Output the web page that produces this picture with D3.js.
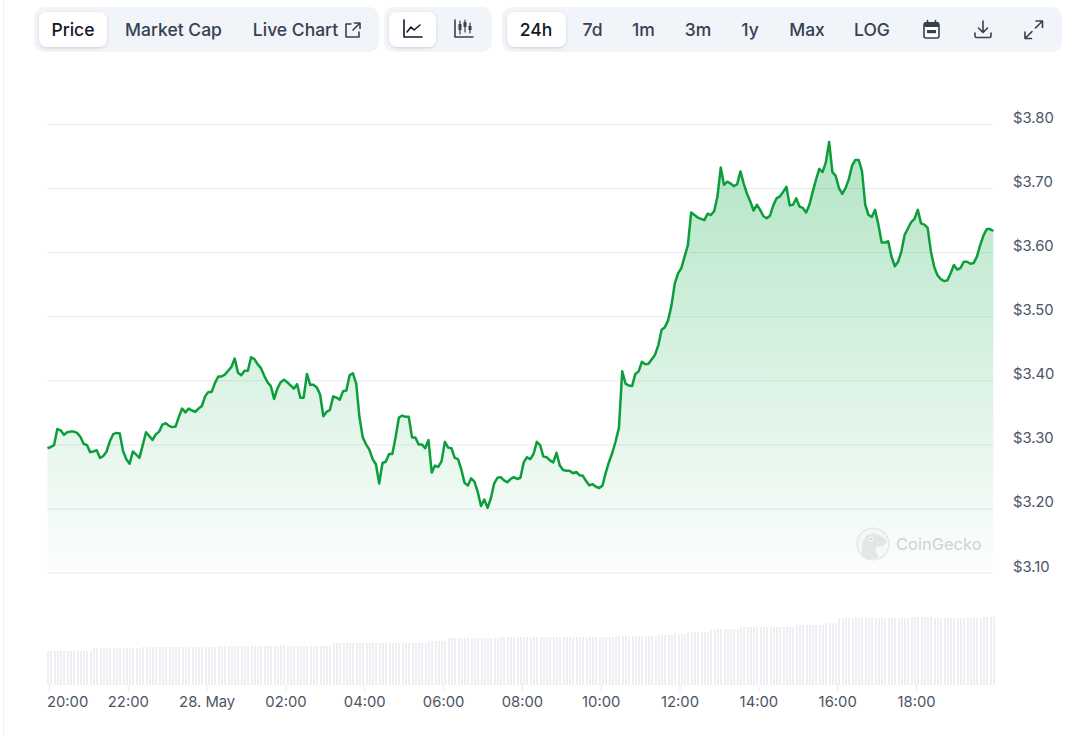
<!DOCTYPE html>
<html lang="en">

<head>
  <meta charset="UTF-8">
  <title>Price chart, 24h</title>
  <script src="https://d3js.org/d3.v7.min.js"></script>
  <style>
    body {
      margin: 0;
      background: #fff;
      font-family: Inter, "Noto Sans", sans-serif;
    }

    svg {
      display: block;
    }

    .price-axis path,
    .time-axis path {
      display: none;
    }

    .price-axis line,
    .time-axis line {
      stroke: #e8eaee;
    }

    .price-axis text,
    .time-axis text {
      font-family: Inter, "Noto Sans", sans-serif;
      font-size: 14.8px;
      fill: #4b5565;
    }
  </style>
</head>

<body>
  <div id="chart"></div>

  <script>
    // 5 minute samples
    const startTime = new Date(2024, 4, 27, 19, 57, 43);
    const stepMinutes = 5;

    const prices = [
      3.294, 3.296, 3.299, 3.324, 3.322, 3.315, 3.319, 3.320, 3.320, 3.318, 3.312, 3.301, 3.299, 3.288, 3.289, 3.291, 3.279, 3.282, 3.289, 3.305, 3.316, 3.318, 3.317, 3.290,
      3.277, 3.270, 3.289, 3.284, 3.279, 3.299, 3.319, 3.313, 3.307, 3.316, 3.320, 3.331, 3.333, 3.329, 3.327, 3.328, 3.343, 3.356, 3.350, 3.356, 3.353, 3.351, 3.356, 3.360,
      3.375, 3.382, 3.382, 3.396, 3.406, 3.406, 3.409, 3.415, 3.421, 3.434, 3.412, 3.408, 3.415, 3.415, 3.436, 3.433, 3.425, 3.419, 3.407, 3.397, 3.391, 3.371, 3.387, 3.397,
      3.401, 3.397, 3.392, 3.387, 3.394, 3.373, 3.373, 3.410, 3.393, 3.393, 3.389, 3.378, 3.344, 3.351, 3.354, 3.375, 3.373, 3.370, 3.383, 3.384, 3.408, 3.411, 3.395, 3.342,
      3.311, 3.300, 3.292, 3.277, 3.269, 3.239, 3.271, 3.273, 3.285, 3.285, 3.311, 3.342, 3.345, 3.343, 3.343, 3.311, 3.311, 3.300, 3.300, 3.294, 3.307, 3.256, 3.267, 3.265,
      3.274, 3.304, 3.295, 3.294, 3.279, 3.277, 3.261, 3.240, 3.236, 3.247, 3.242, 3.226, 3.204, 3.214, 3.201, 3.216, 3.239, 3.248, 3.249, 3.244, 3.241, 3.246, 3.249, 3.246,
      3.248, 3.272, 3.280, 3.277, 3.285, 3.304, 3.299, 3.281, 3.280, 3.275, 3.272, 3.287, 3.267, 3.260, 3.259, 3.259, 3.255, 3.257, 3.252, 3.251, 3.243, 3.236, 3.238, 3.234,
      3.232, 3.236, 3.256, 3.273, 3.287, 3.305, 3.326, 3.414, 3.395, 3.392, 3.391, 3.410, 3.414, 3.429, 3.425, 3.426, 3.433, 3.440, 3.455, 3.479, 3.483, 3.494, 3.517, 3.551,
      3.567, 3.575, 3.593, 3.611, 3.662, 3.658, 3.654, 3.652, 3.650, 3.660, 3.658, 3.664, 3.687, 3.732, 3.705, 3.710, 3.707, 3.703, 3.706, 3.726, 3.707, 3.691, 3.679, 3.665,
      3.674, 3.666, 3.656, 3.653, 3.657, 3.673, 3.684, 3.687, 3.694, 3.702, 3.673, 3.674, 3.684, 3.671, 3.669, 3.662, 3.674, 3.694, 3.713, 3.730, 3.725, 3.740, 3.772, 3.725,
      3.719, 3.700, 3.691, 3.700, 3.714, 3.735, 3.744, 3.744, 3.727, 3.674, 3.658, 3.655, 3.666, 3.643, 3.615, 3.615, 3.617, 3.593, 3.578, 3.585, 3.601, 3.627, 3.637, 3.647,
      3.652, 3.666, 3.645, 3.643, 3.638, 3.601, 3.577, 3.564, 3.558, 3.555, 3.556, 3.567, 3.580, 3.573, 3.575, 3.585, 3.585, 3.582, 3.583, 3.593, 3.611, 3.626, 3.636, 3.636,
      3.633
    ];

    const volumes = [
      34, 34, 34, 34, 34, 34, 34, 34, 34, 34, 34, 34, 34, 34,
      37, 37, 37, 37, 37, 37, 37, 37, 37, 37, 37, 37, 37, 37, 37,
      38, 38, 38, 38, 38, 38, 38, 38, 38, 38, 38, 38, 38, 38, 38, 38, 38, 38, 38, 38, 38, 38, 38,
      39.5, 39.5, 39.5, 39.5, 39.5, 39.5, 39.5, 39.5, 39.5, 39.5, 39.5, 39.5, 39.5, 39.5, 39.5, 39.5, 39.5, 39.5, 39.5,
      40.5, 40.5,
      39.5, 39.5, 39.5, 39.5, 39.5, 39.5, 39.5, 39.5, 39.5, 39.5, 39.5, 39.5, 39.5, 39.5,
      41.7, 41.7, 41.7, 41.7, 41.7, 41.7, 41.7, 41.7, 41.7, 41.7, 41.7, 41.7, 41.7, 41.7, 41.7, 41.7, 41.7, 41.7,
      42.5, 42.5, 42.5, 42.5, 42.5, 42.5, 42.5, 42.5, 42.5, 42.5, 42.5,
      44, 44, 44, 44, 44, 44,
      47, 47, 47, 47, 47, 47, 47, 47, 47, 47, 47, 47, 47, 47, 47, 47,
      48.3, 48.3, 48.3, 48.3, 48.3, 48.3, 48.3, 48.3, 48.3, 48.3, 48.3, 48.3, 48.3, 48.3, 48.3, 48.3, 48.3, 48.3,
      48.3, 48.3, 48.3, 48.3, 48.3, 48.3, 48.3, 48.3, 48.3, 48.3, 48.3, 48.3, 48.3, 48.3, 48.3, 48.3, 48.3, 48.3,
      49, 49, 49, 49, 49, 49, 49, 49, 49, 49, 49, 49,
      50, 50, 50, 50, 50,
      51.5, 51.5, 51.5, 51.5,
      53, 53, 53, 53, 53, 53, 53,
      56, 56, 56, 56, 56, 56, 56, 56, 56,
      57.7, 57.7, 57.7, 57.7, 57.7, 57.7, 57.7, 57.7, 57.7, 57.7, 57.7, 57.7, 57.7, 57.7, 57.7, 57.7, 57.7,
      60.5, 60.5, 60.5, 60.5, 60.5, 60.5, 60.5, 60.5, 60.5,
      62, 62, 62, 62,
      67, 67, 67, 67, 67, 67, 67, 67, 67, 67, 67, 67, 67, 67, 67, 67, 67, 67, 67, 67, 67, 67,
      68, 68, 68, 68, 68, 68, 68,
      67, 67, 67, 67, 67, 67, 67, 67, 67, 67, 67, 67, 67, 67, 67,
      68, 68, 68, 68
    ];

    const priceTicks = [3.1, 3.2, 3.3, 3.4, 3.5, 3.6, 3.7, 3.8];
    const timeTicks = [
      new Date(2024, 4, 27, 20), new Date(2024, 4, 27, 22), new Date(2024, 4, 28, 0),
      new Date(2024, 4, 28, 2), new Date(2024, 4, 28, 4), new Date(2024, 4, 28, 6),
      new Date(2024, 4, 28, 8), new Date(2024, 4, 28, 10), new Date(2024, 4, 28, 12),
      new Date(2024, 4, 28, 14), new Date(2024, 4, 28, 16), new Date(2024, 4, 28, 18)
    ];

    const metricButtons = ["Price", "Market Cap", "Live Chart"];
    const metricCenters = [73, 173.5, 295.5];
    const rangeButtons = ["24h", "7d", "1m", "3m", "1y", "Max", "LOG"];
    const rangeCenters = [536, 592.5, 643.5, 698, 750, 807, 872];

    const width = 1075;
    const height = 735;

    const svg = d3.select("#chart")
      .append("svg")
      .attr("width", width)
      .attr("height", height);

    const defs = svg.append("defs");

    const shadow = defs.append("filter").attr("id", "btn-shadow")
      .attr("x", "-20%").attr("y", "-20%").attr("width", "140%").attr("height", "150%");
    shadow.append("feDropShadow")
      .attr("dx", 0).attr("dy", 1).attr("stdDeviation", 1.5)
      .attr("flood-color", "#000").attr("flood-opacity", 0.16);

    const grad = defs.append("linearGradient")
      .attr("id", "area-fill")
      .attr("gradientUnits", "userSpaceOnUse")
      .attr("x1", 0).attr("x2", 0).attr("y1", 142).attr("y2", 572);
    grad.append("stop").attr("offset", 0).attr("stop-color", "#00a83e").attr("stop-opacity", 0.3);
    grad.append("stop").attr("offset", 1).attr("stop-color", "#00a83e").attr("stop-opacity", 0.01);

    // thin page edge on the left
    svg.append("line")
      .attr("x1", 3.5).attr("x2", 3.5).attr("y1", 0).attr("y2", height)
      .attr("stroke", "#eeeff2");

    const x = d3.scaleTime()
      .domain([timeTicks[0], timeTicks[timeTicks.length - 1]])
      .range([49, 916]);

    const y = d3.scaleLinear()
      .domain([3.1, 3.8])
      .range([572.6, 124]);

    const volumeY = d3.scaleLinear()
      .domain([0, 68])
      .range([685, 617]);

    const timeOf = i => d3.timeMinute.offset(startTime, i * stepMinutes);

    // Price gridlines and labels
    const priceAxis = svg.append("g")
      .attr("class", "price-axis")
      .attr("transform", "translate(47,0)")
      .call(d3.axisRight(y)
        .tickValues(priceTicks)
        .tickSize(946)
        .tickPadding(20)
        .tickFormat(d => "$" + d.toFixed(2)));
    priceAxis.selectAll("text").attr("y", -6.3);

    // Volume bars
    svg.append("g")
      .selectAll("rect")
      .data(volumes)
      .enter()
      .append("rect")
      .attr("x", (d, i) => x(timeOf(i)) - 0.5)
      .attr("y", d => volumeY(d))
      .attr("width", 2)
      .attr("height", d => volumeY(0) - volumeY(d))
      .attr("fill", "#edeff3")
      .attr("shape-rendering", "crispEdges");

    // Time axis
    const timeAxis = svg.append("g")
      .attr("class", "time-axis")
      .attr("transform", "translate(0,685)")
      .call(d3.axisBottom(x)
        .tickValues(timeTicks)
        .tickSize(7)
        .tickPadding(4)
        .tickFormat(d => d.getHours() === 0 ? "28. May" : d3.timeFormat("%H:%M")(d)));
    // first label is pushed right so it stays inside the plot
    timeAxis.select(".tick text").attr("text-anchor", "start").attr("x", -2.5);

    // Watermark goes under the price area
    const mark = svg.append("g").attr("transform", "translate(873,544)");
    mark.append("circle").attr("r", 16).attr("fill", "#fbfbfb").attr("stroke", "#e6e8e8").attr("stroke-width", 1.2);
    mark.append("path")
      .attr("d", "M-10,13 C-12,4 -11,-8 -3,-10 C3,-12 10,-8 14,-2 C12,2 7,3 3,3 C2,7 4,11 6,13 C1,16 -6,16 -10,13 Z")
      .attr("fill", "#e8eae9");
    mark.append("circle").attr("cx", -2).attr("cy", -5).attr("r", 2.4).attr("fill", "#fbfbfb");
    mark.append("circle").attr("cx", -2).attr("cy", -5).attr("r", 1.1).attr("fill", "#cfd2d1");
    svg.append("text")
      .attr("x", 896).attr("y", 550)
      .attr("font-size", 16.5)
      .attr("fill", "#d2d5d4")
      .text("CoinGecko");

    // Area and line
    svg.append("path")
      .datum(prices)
      .attr("fill", "url(#area-fill)")
      .attr("d", d3.area()
        .x((d, i) => x(timeOf(i)))
        .y0(y(3.1))
        .y1(d => y(d)));

    svg.append("path")
      .datum(prices)
      .attr("fill", "none")
      .attr("stroke", "#0b9e3a")
      .attr("stroke-width", 2.5)
      .attr("stroke-linejoin", "round")
      .attr("d", d3.line()
        .x((d, i) => x(timeOf(i)))
        .y(d => y(d)));

    // Toolbar
    const toolbar = svg.append("g");

    function pill(px, py, w, h, r, fill, shadowed) {
      const p = toolbar.append("rect")
        .attr("x", px).attr("y", py).attr("width", w).attr("height", h)
        .attr("rx", r).attr("fill", fill);
      if (shadowed) p.attr("filter", "url(#btn-shadow)");
    }

    pill(34, 7, 345, 45, 10, "#f1f4f9");
    pill(384, 7, 108, 45, 10, "#f1f4f9");
    pill(502, 7, 560, 45, 10, "#f1f4f9");
    pill(39, 12, 68, 35, 8, "#fff", true);
    pill(389, 12, 47, 35, 8, "#fff", true);
    pill(507, 12, 59, 35, 8, "#fff", true);

    toolbar.selectAll(".metric")
      .data(metricButtons)
      .enter()
      .append("text")
      .attr("class", "metric")
      .attr("x", (d, i) => metricCenters[i])
      .attr("y", 35.5)
      .attr("text-anchor", "middle")
      .attr("font-size", 17.5)
      .attr("font-weight", 500)
      .attr("fill", (d, i) => i === 0 ? "#111827" : "#364152")
      .text(d => d);

    toolbar.selectAll(".range")
      .data(rangeButtons)
      .enter()
      .append("text")
      .attr("class", "range")
      .attr("x", (d, i) => rangeCenters[i])
      .attr("y", 35.5)
      .attr("text-anchor", "middle")
      .attr("font-size", 17.5)
      .attr("font-weight", 500)
      .attr("fill", (d, i) => i === 0 ? "#111827" : "#364152")
      .text(d => d);

    function icon(ix, iy, d, color, sw) {
      toolbar.append("path")
        .attr("transform", `translate(${ix},${iy})`)
        .attr("d", d)
        .attr("fill", "none")
        .attr("stroke", color || "#364152")
        .attr("stroke-width", sw || 1.6)
        .attr("stroke-linecap", "round")
        .attr("stroke-linejoin", "round");
    }

    // external link
    icon(344, 22, "M7,2 H2 V15 H15 V10 M9,8 L15.5,1.5 M10.5,1 H16 V6.5");
    // line chart
    icon(404, 20, "M0,0 V17 H18 M3,12 L7,7 L10,10 L16,5", "#111827");
    // candles
    icon(455, 20, "M0,0 V17 H18", "#364152");
    icon(455, 20, "M5,1 V14 M10,0 V12 M15,3 V13", "#364152", 1.2);
    toolbar.append("g").attr("transform", "translate(455,20)")
      .selectAll("rect")
      .data([[3.5, 4, 3, 6], [8.5, 2, 3, 5], [13.5, 6, 3, 4]])
      .enter()
      .append("rect")
      .attr("x", d => d[0]).attr("y", d => d[1]).attr("width", d => d[2]).attr("height", d => d[3])
      .attr("fill", "#364152");
    // calendar
    toolbar.append("rect").attr("x", 924).attr("y", 23).attr("width", 15).attr("height", 15).attr("rx", 2)
      .attr("fill", "#fff").attr("stroke", "#364152").attr("stroke-width", 1.6);
    toolbar.append("rect").attr("x", 924).attr("y", 22).attr("width", 15).attr("height", 5).attr("rx", 1.5).attr("fill", "#364152");
    toolbar.append("rect").attr("x", 927).attr("y", 30).attr("width", 9).attr("height", 3.2).attr("fill", "#364152");
    icon(927.5, 20.5, "M0,0 V3 M8,0 V3");
    // download
    icon(975, 21, "M8,0 V11 M3.5,7 L8,11.5 L12.5,7 M0,12 V15 A1.5,1.5 0 0 0 1.5,16.5 H14.5 A1.5,1.5 0 0 0 16,15 V12");
    // expand
    icon(1025, 21, "M11,0 H17.5 V6.5 M17.5,0 L10.5,7 M0,11 V17.5 H6.5 M0,17.5 L7,10.5");
  </script>
</body>

</html>
